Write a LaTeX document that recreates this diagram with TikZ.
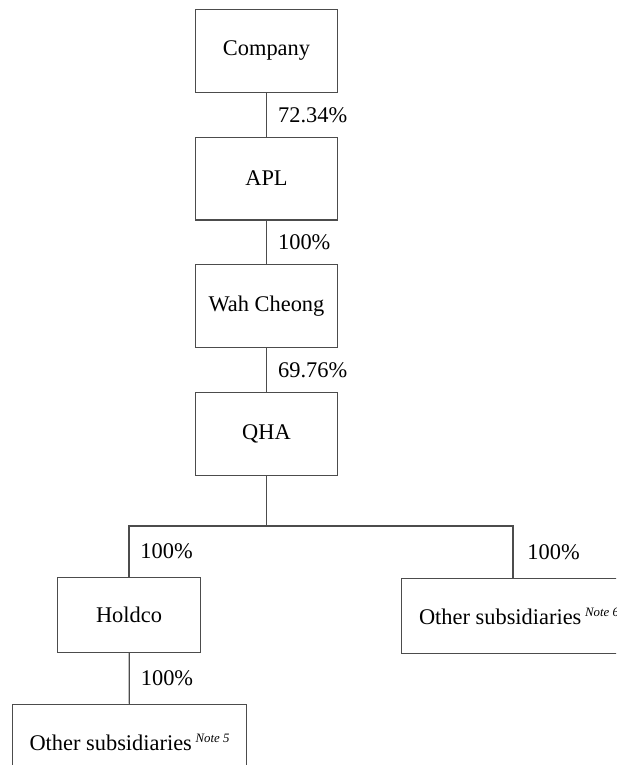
\documentclass[tikz,border=0pt]{standalone}
\usepackage{fontspec}
\setmainfont{Liberation Serif}
\usetikzlibrary{positioning}

\newcommand{\notemark}[1]{\,\raisebox{4pt}{\fontsize{6.4}{7}\selectfont\itshape Note #1}}

\begin{document}
\begin{tikzpicture}[x=0.5pt, y=-0.5pt,
        font=\fontsize{11.2}{13.4}\selectfont,
        ent/.style={draw=black!70, line width=0.6pt, inner sep=0pt, minimum width=71pt, minimum height=41.4pt},
        sub/.style={ent, minimum height=37.4pt},
        link/.style={draw=black!70, line width=0.6pt},
        pct/.style={right, inner sep=0pt, xshift=5.5pt},
        node distance=21.8pt]
        \useasboundingbox (0,0) rectangle (616,765);
        \clip (0,0) rectangle (616,765);
        \node[ent] (company) at (266.5,51) {Company};
        \node[ent, below=of company] (apl) {APL};
        \node[ent, below=of apl] (wahcheong) {Wah Cheong};
        \node[ent, below=of wahcheong] (qha) {QHA};
        \coordinate (split) at (266.5,526);
        \node[sub, minimum width=71.5pt] (holdco) at (129,615) {Holdco};
        \node[sub, minimum width=111.5pt] (othersix) at (513,616) {\hspace{6pt}Other subsidiaries\notemark{6}};
        \node[sub, minimum width=117pt] (otherfive) at (129.5,742) {Other subsidiaries\notemark{5}};
        \draw[link] (company) -- node[pct]{72.34\%} (apl);
        \draw[link] (apl) -- node[pct]{100\%} (wahcheong);
        \draw[link] (wahcheong) -- node[pct]{69.76\%} (qha);
        \draw[link] (qha) -- (split);
        \draw[link] (holdco.north) |- (split) -| (othersix.north);
        \path (holdco.north) -- node[pct]{100\%} (holdco.north |- split);
        \path (othersix.north) -- node[pct, xshift=1.5pt]{100\%} (othersix.north |- split);
        \draw[link] (holdco) -- node[pct]{100\%} (otherfive);
\end{tikzpicture}
\end{document}
